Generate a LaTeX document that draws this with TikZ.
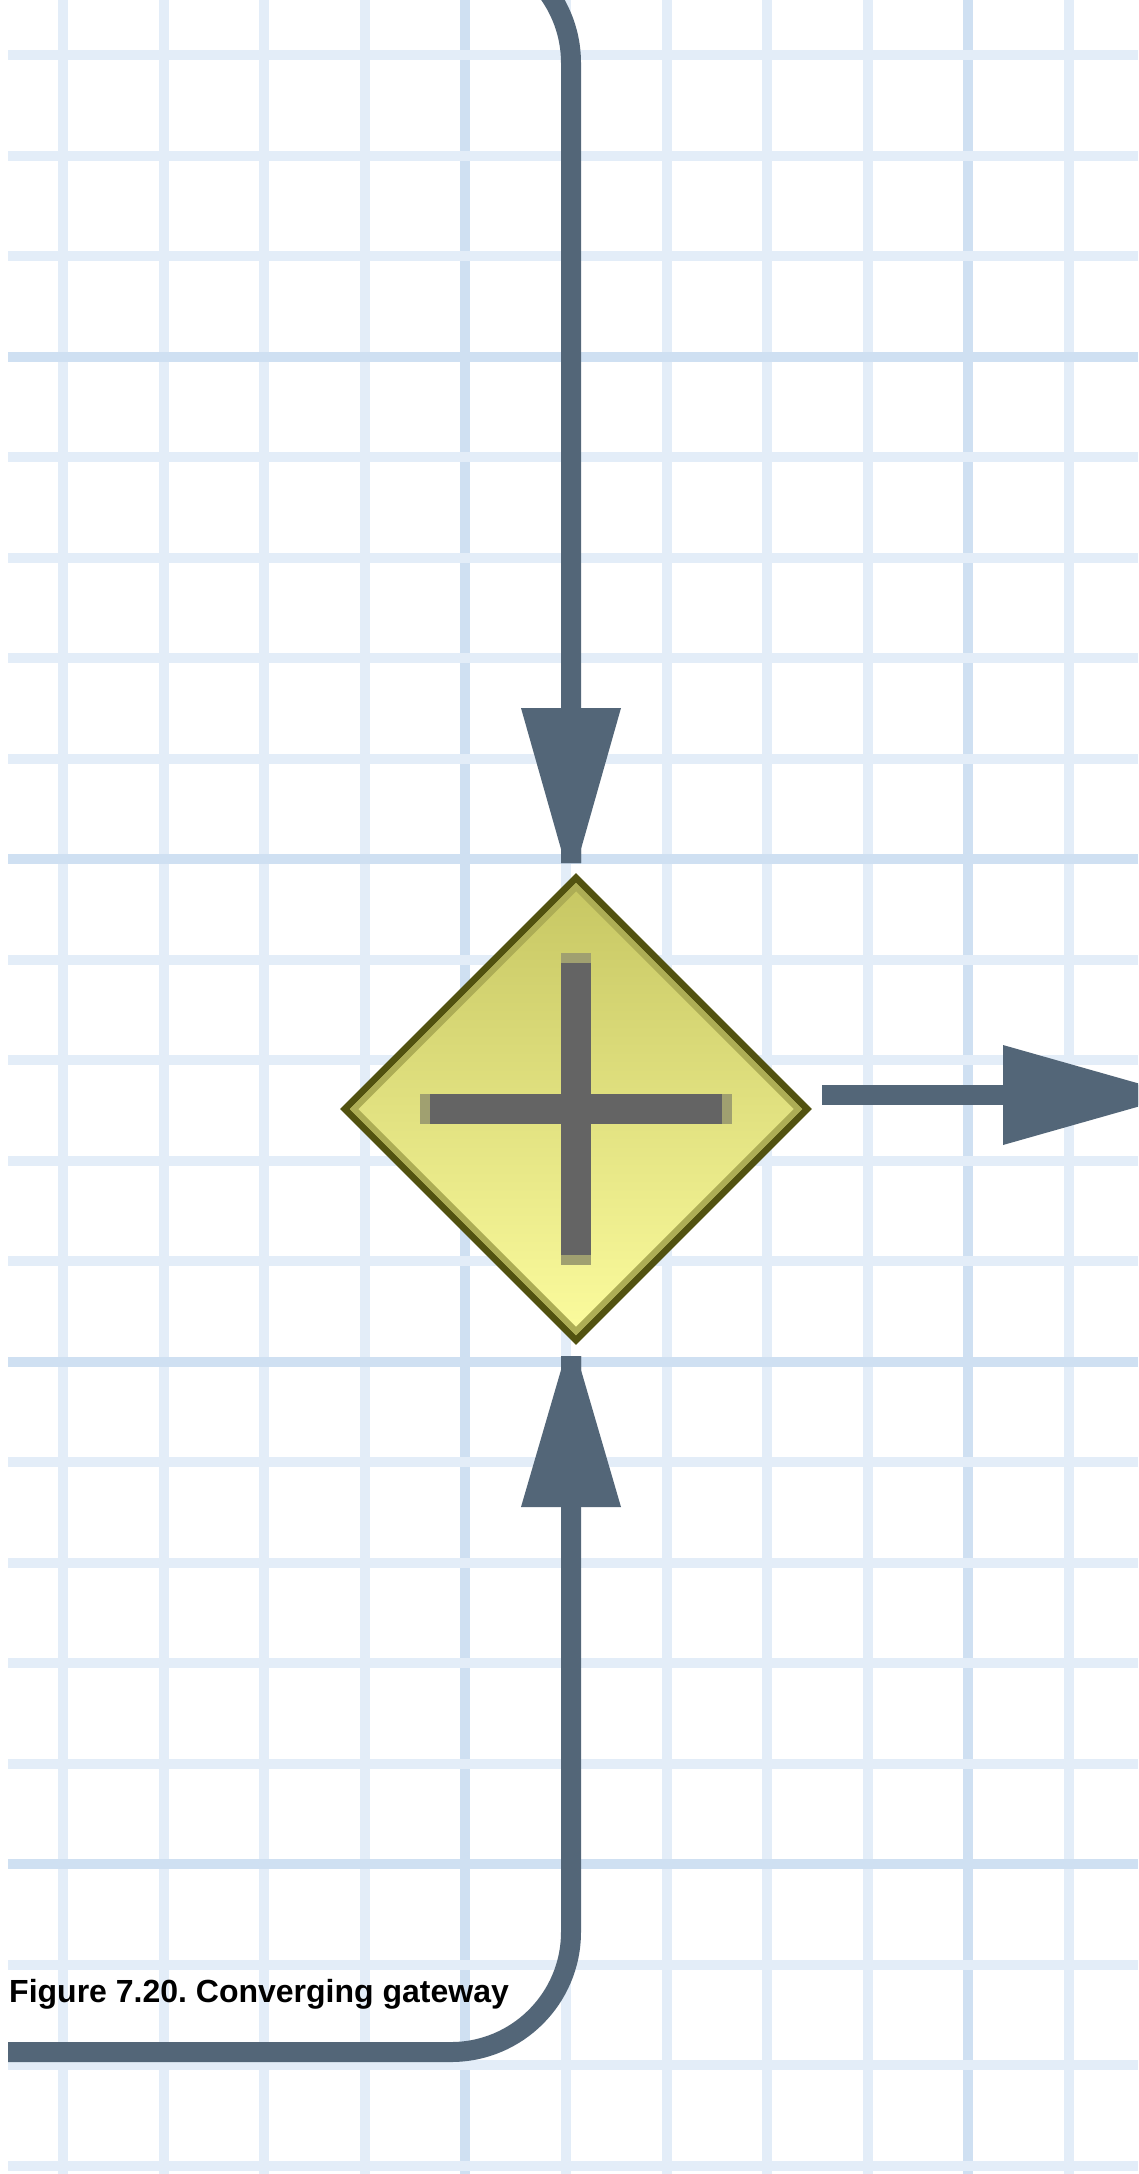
\documentclass[tikz,border=0pt]{standalone}
\usepackage{fontspec}
\setmainfont{Liberation Sans}
\usetikzlibrary{shapes.geometric,calc}
\definecolor{gridmin}{HTML}{E3EDF8}
\definecolor{gridmaj}{HTML}{CFE0F2}
\definecolor{connc}{HTML}{536678}
\definecolor{gwborder}{HTML}{525210}
\definecolor{gwband}{HTML}{ADAD55}
\definecolor{gwtop}{HTML}{C6C662}
\definecolor{gwbot}{HTML}{FCFC9E}
\definecolor{crossc}{HTML}{646464}
\definecolor{crosscap}{HTML}{A0A070}
\tikzset{
  gridminor/.style={draw=gridmin, line width=10pt},
  gridmajor/.style={draw=gridmaj, line width=10pt},
  conn/.style={draw=connc, line width=20pt, rounded corners=120pt},
  arrowhead/.style={fill=connc, draw=none},
  gateway/.style={shape=diamond, aspect=1, inner sep=0pt, outer sep=0pt,
    minimum width=462pt, minimum height=462pt,
    draw=gwborder, line width=7pt, top color=gwtop, bottom color=gwbot},
  gwinner/.style={draw=gwband, line width=6pt},
  crossbar/.style={draw=crossc, line width=30pt},
  crossend/.style={draw=crosscap, line width=30pt},
  caption/.style={anchor=base west, inner sep=0pt, text=black,
    font=\bfseries\fontsize{32}{38}\selectfont}
}
\begin{document}
\frenchspacing
\begin{tikzpicture}[x=1pt,y=-1pt]
\useasboundingbox (0,0) rectangle (1138,2174);
\fill[white] (0,0) rectangle (1138,2174);
\clip (0,0) rectangle (1138,2174);
% grid: vertical lines
\foreach \k in {0,...,10}{
  \pgfmathsetmacro\xx{63+100.6*\k}
  \draw[gridminor] (\xx,0) -- (\xx,2174);
}
\foreach \k in {4,9}{
  \pgfmathsetmacro\xx{63+100.6*\k}
  \draw[gridmajor] (\xx,0) -- (\xx,2174);
}
% grid: horizontal lines
\foreach \k in {0,...,21}{
  \pgfmathsetmacro\yy{55+100.5*\k}
  \draw[gridminor] (8,\yy) -- (1138,\yy);
}
\foreach \k in {3,8,13,18}{
  \pgfmathsetmacro\yy{55+100.5*\k}
  \draw[gridmajor] (8,\yy) -- (1138,\yy);
}
% gateway
\node[gateway] (gw) at (576,1109) {};
\draw[gwinner] ($(gw.north)+(0,9)$) -- ($(gw.east)+(-9,0)$) -- ($(gw.south)+(0,-9)$) -- ($(gw.west)+(9,0)$) -- cycle;
\draw[crossend] ($(gw.center)+(0,-156)$) -- ($(gw.center)+(0,156)$);
\draw[crossend] ($(gw.center)+(-156,0)$) -- ($(gw.center)+(156,0)$);
\draw[crossbar] ($(gw.center)+(0,-146)$) -- ($(gw.center)+(0,146)$);
\draw[crossbar] ($(gw.center)+(-146,0)$) -- ($(gw.center)+(146,0)$);
% connector coordinates
\coordinate (topin) at (300,-57);
\coordinate (tA) at (571,863);
\coordinate (botin) at (8,2052);
\coordinate (tB) at (571,1356);
\coordinate (rs) at ($(gw.east)+(15,-14)$);
\coordinate (tR) at (1158,1095);
% incoming from top
\draw[conn] (topin) -- (571,-57) -- (tA);
\fill[arrowhead] ($(tA)+(-50,-155)$) -- ($(tA)+(50,-155)$) -- ($(tA)+(10,-14)$) -- ($(tA)+(10,0)$) -- ($(tA)+(-10,0)$) -- ($(tA)+(-10,-14)$) -- cycle;
% incoming from bottom
\draw[conn] (botin) -- (571,2052) -- (tB);
\fill[arrowhead] ($(tB)+(-50,151)$) -- ($(tB)+(50,151)$) -- ($(tB)+(10,14)$) -- ($(tB)+(10,0)$) -- ($(tB)+(-10,0)$) -- ($(tB)+(-10,14)$) -- cycle;
% outgoing to the right
\draw[conn] (rs) -- (tR);
\fill[arrowhead] ($(tR)+(-155,-50)$) -- ($(tR)+(-155,50)$) -- ($(tR)+(-14,10)$) -- ($(tR)+(0,10)$) -- ($(tR)+(0,-10)$) -- ($(tR)+(-14,-10)$) -- cycle;
% caption
\node[caption] (cap) at (9,2002) {Figure 7.20. Converging gateway};
\end{tikzpicture}
\end{document}
